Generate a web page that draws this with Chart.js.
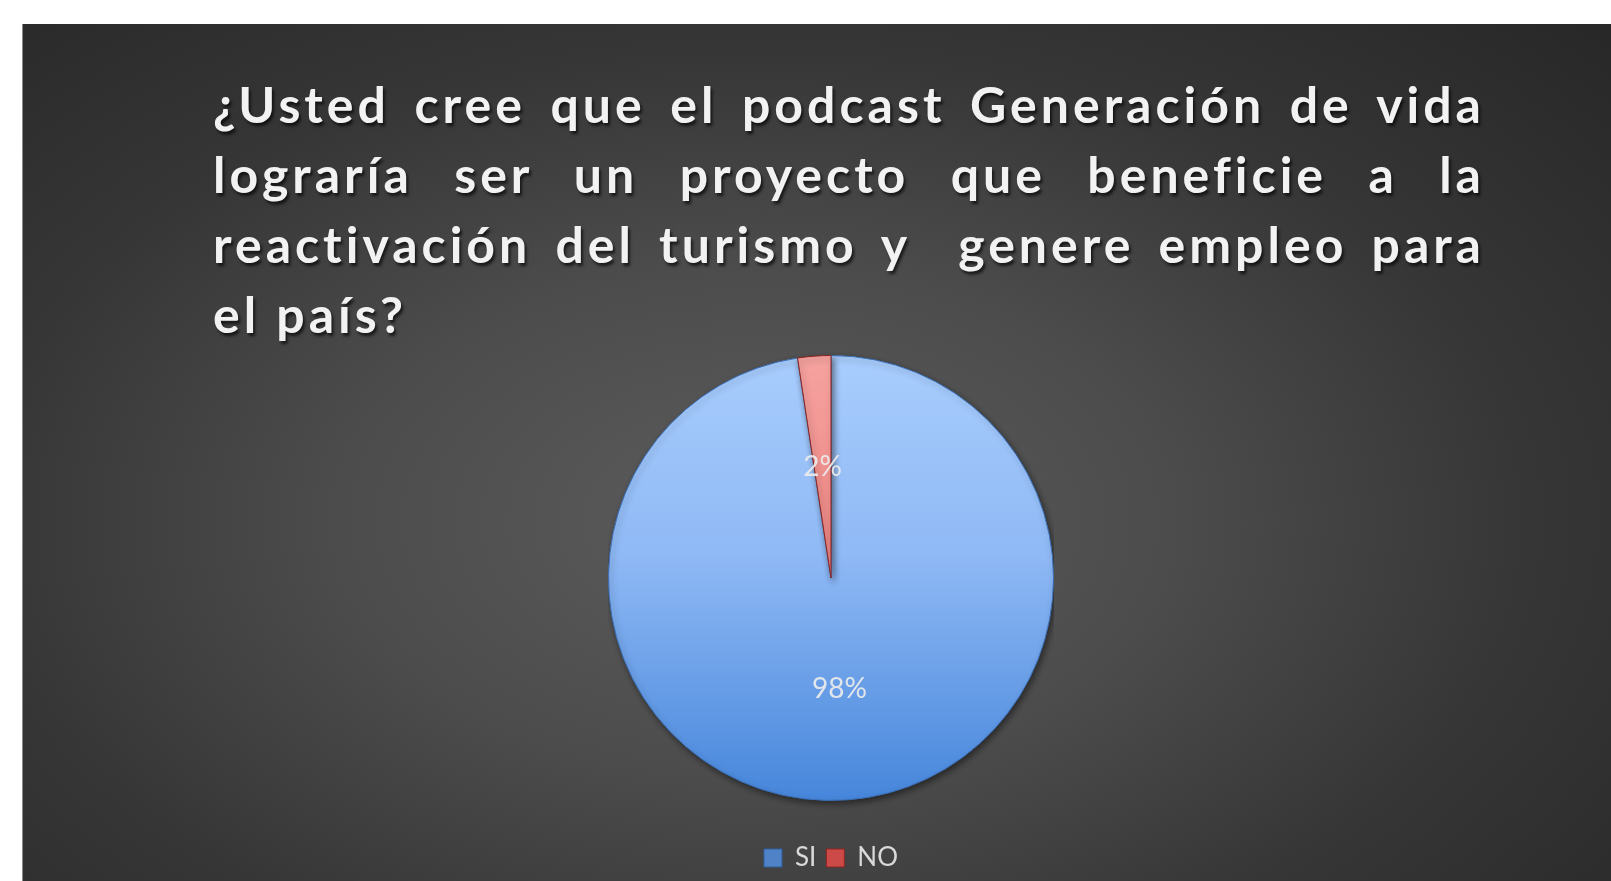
<!DOCTYPE html>
<html>
<head>
<meta charset="utf-8">
<script src="https://cdn.jsdelivr.net/npm/chart.js@4.4.1/dist/chart.umd.min.js"></script>
<style>
  html, body { margin: 0; padding: 0; background: #ffffff; width: 1611px; height: 881px; overflow: hidden; }
  #panel {
    position: absolute; left: 22px; top: 24px; width: 1589px; height: 857px;
    background: radial-gradient(ellipse 75% 85% at 46% 58%, #5c5c5c 0%, #4c4c4c 35%, #363636 65%, #272727 100%);
    border-left: 1px solid #8a8a8a;
  }
  #title {
    position: absolute; left: 213px; top: 69px; width: 1272px;
    font-family: Lato, "Open Sans", sans-serif; font-weight: 700; font-size: 50px;
    letter-spacing: 4px; color: #f2f2f2;
    text-shadow: 2px 3px 3px rgba(0,0,0,0.65);
  }
  #title div { height: 70px; line-height: 70px; white-space: nowrap; }
  #title .j { text-align: justify; text-align-last: justify; }
  #title .l { text-align: left; }
  #wrap { position: absolute; left: 608px; top: 321px; width: 446px; height: 560px; }
</style>
</head>
<body>
<div id="panel"></div>
<div id="title">
  <div class="j">¿Usted cree que el podcast Generación de vida</div>
  <div class="j">lograría ser un proyecto que beneficie a la</div>
  <div class="j">reactivación del turismo y&nbsp; genere empleo para</div>
  <div class="l">el país?</div>
</div>
<div id="wrap"><canvas id="c"></canvas></div>
<script>
const categories = ['SI', 'NO'];
const values = [97.6, 2.4];
const legendColors = ['#4f82c6', '#cc4a48'];

function sliceFill(ctx) {
  const chart = ctx.chart;
  const ca = chart.chartArea;
  const i = ctx.dataIndex;
  if (!ca) return legendColors[i];
  const r = Math.min(ca.right - ca.left, ca.bottom - ca.top) / 2;
  const cy = (ca.top + ca.bottom) / 2;
  const g = chart.ctx.createLinearGradient(0, cy - r, 0, cy + r);
  if (i === 0) {
    g.addColorStop(0, '#a8cdfd');
    g.addColorStop(0.45, '#8fb9f5');
    g.addColorStop(1, '#4686db');
  } else {
    g.addColorStop(0, '#f6a3a0');
    g.addColorStop(1, '#e0605c');
  }
  return g;
}

const shadowPlugin = {
  id: 'shadow',
  beforeDatasetsDraw(chart) {
    const c = chart.ctx;
    c.save();
    c.shadowColor = 'rgba(0,0,0,0.45)';
    c.shadowBlur = 6;
    c.shadowOffsetX = 2;
    c.shadowOffsetY = 3;
  },
  afterDatasetsDraw(chart) {
    chart.ctx.restore();
  }
};

const labelPlugin = {
  id: 'pctLabels',
  afterDatasetsDraw(chart) {
    const c = chart.ctx;
    const meta = chart.getDatasetMeta(0);
    const total = values.reduce((a, b) => a + b, 0);
    c.save();
    c.font = '28px Lato, "Open Sans", sans-serif';
    c.fillStyle = 'rgba(235,235,235,0.92)';
    c.textAlign = 'center';
    c.textBaseline = 'middle';
    meta.data.forEach((arc, i) => {
      const p = arc.tooltipPosition();
      c.fillText(Math.round(values[i] / total * 100) + '%', p.x, p.y);
    });
    c.restore();
  }
};

new Chart(document.getElementById('c'), {
  type: 'pie',
  data: {
    labels: categories,
    datasets: [{
      data: values,
      backgroundColor: sliceFill,
      borderColor: ['#3a6fb8', '#8e2422'],
      borderWidth: 1
    }]
  },
  options: {
    responsive: true,
    maintainAspectRatio: false,
    animation: false,
    layout: { padding: 0 },
    plugins: {
      tooltip: { enabled: false },
      title: { display: false },
      legend: {
        position: 'bottom',
        labels: {
          color: '#d9d9d9',
          font: { family: 'Lato, "Open Sans", sans-serif', size: 26 },
          boxWidth: 18,
          boxHeight: 18,
          padding: 10,
          generateLabels(chart) {
            return categories.map((name, i) => ({
              text: name,
              fillStyle: legendColors[i],
              strokeStyle: i === 0 ? '#2f5f9e' : '#8e2422',
              lineWidth: 1,
              fontColor: '#d9d9d9',
              hidden: false,
              index: i
            }));
          }
        }
      }
    }
  },
  plugins: [shadowPlugin, labelPlugin]
});
</script>
</body>
</html>
